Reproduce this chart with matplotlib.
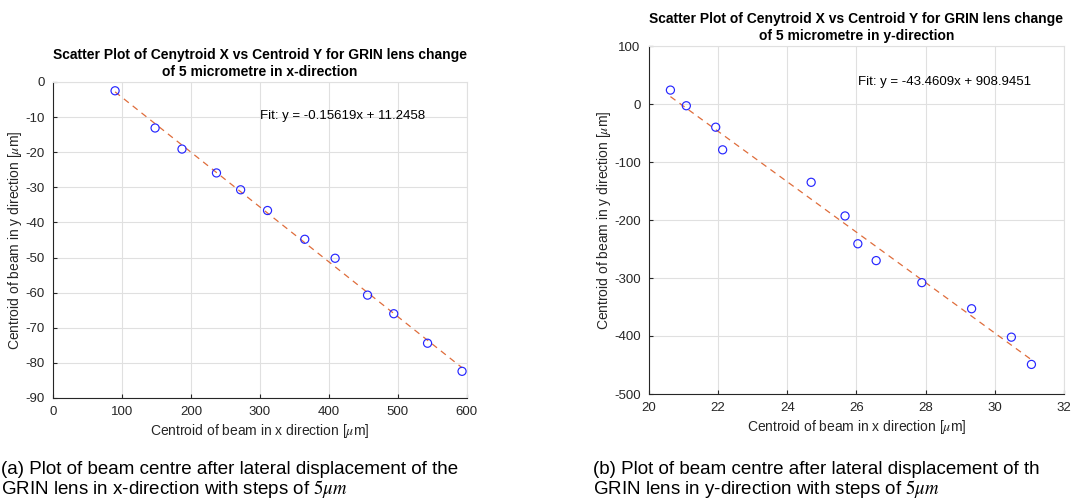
import numpy as np
import matplotlib
matplotlib.use("Agg")
import matplotlib.pyplot as plt

plt.rcParams['font.family'] = ['Liberation Sans', 'DejaVu Sans']
plt.rcParams['mathtext.fontset'] = 'stix'
plt.rcParams['axes.unicode_minus'] = False

# data, lens moved in x-direction
x_shift_x = [90, 148, 187, 237, 272, 311, 365, 409, 456, 494, 543, 593]
x_shift_y = [-2.5, -13.1, -19.1, -25.9, -30.7, -36.6, -44.8, -50.2, -60.7, -66.0, -74.4, -82.4]
fit_x = (-0.15619, 11.2458)

# data, lens moved in y-direction
y_shift_x = [20.62, 21.08, 21.93, 22.13, 24.69, 25.67, 26.04, 26.57, 27.89, 29.33, 30.48, 31.06]
y_shift_y = [24, -3, -40, -79, -135, -193, -241, -270, -308, -353, -402, -449]
fit_y = (-43.4609, 908.9451)

TEXT = (0.15, 0.15, 0.15)
GRID = (0.88, 0.88, 0.88)
LINE = (0.85, 0.325, 0.098)


def style_axes(ax):
    ax.grid(True, color=GRID, linewidth=0.8)
    ax.set_axisbelow(True)
    for side in ['top', 'right']:
        ax.spines[side].set_color(GRID)
    for side in ['left', 'bottom']:
        ax.spines[side].set_color(TEXT)
        ax.spines[side].set_linewidth(0.8)
    ax.tick_params(direction='in', length=3, colors=TEXT, labelsize=9.5,
                   labelcolor=TEXT, top=False, right=False, pad=6)


def draw_panel(ax, xs, ys, fit, title, txt_pos):
    slope, icpt = fit
    xf = np.array([min(xs), max(xs)])
    ax.plot(xf, slope * xf + icpt, '--', color=LINE, linewidth=0.9, dashes=(5, 4), alpha=0.85)
    ax.scatter(xs, ys, s=34, facecolors='none', edgecolors=(0.15, 0.15, 1.0), linewidths=0.85, zorder=3)
    ax.text(txt_pos[0], txt_pos[1], 'Fit: y = %gx + %.4f' % (slope, icpt),
            fontsize=9.5, color='black', va='center')
    ax.set_title(title, fontsize=10, fontweight='bold', color='black', pad=4, linespacing=1.3)
    ax.set_xlabel(r'Centroid of beam in x direction [$\mu$m]', fontsize=10, color=TEXT, labelpad=3)
    ax.set_ylabel(r'Centroid of beam in y direction [$\mu$m]', fontsize=10, color=TEXT, labelpad=1)
    style_axes(ax)


fig = plt.figure(figsize=(10.75, 5), dpi=100)

ax1 = fig.add_axes([0.0493, 0.204, 0.385, 0.632])
draw_panel(ax1, x_shift_x, x_shift_y, fit_x,
           'Scatter Plot of Cenytroid X vs Centroid Y for GRIN lens change\nof 5 micrometre in x-direction',
           (300, -9.7))
ax1.set_xlim(0, 600)
ax1.set_ylim(-90, 0)
ax1.set_xticks(np.arange(0, 601, 100))
ax1.set_yticks(np.arange(-90, 1, 10))

ax2 = fig.add_axes([0.6037, 0.212, 0.386, 0.696])
draw_panel(ax2, y_shift_x, y_shift_y, fit_y,
           'Scatter Plot of Cenytroid X vs Centroid Y for GRIN lens change\nof 5 micrometre in y-direction',
           (26.04, 38))
ax2.set_xlim(20, 32)
ax2.set_ylim(-500, 100)
ax2.set_xticks(np.arange(20, 33, 2))
ax2.set_yticks(np.arange(-500, 101, 100))

fig.text(0.001, 0.013, '(a) Plot of beam centre after lateral displacement of the\n'
         'GRIN lens in x-direction with steps of $5\\mu m$',
         fontsize=13.5, color='black', linespacing=0.95)
fig.text(0.5516, 0.013, '(b) Plot of beam centre after lateral displacement of th\n'
         'GRIN lens in y-direction with steps of $5\\mu m$',
         fontsize=13.5, color='black', linespacing=0.95)

fig.savefig('out.png', dpi=100)
